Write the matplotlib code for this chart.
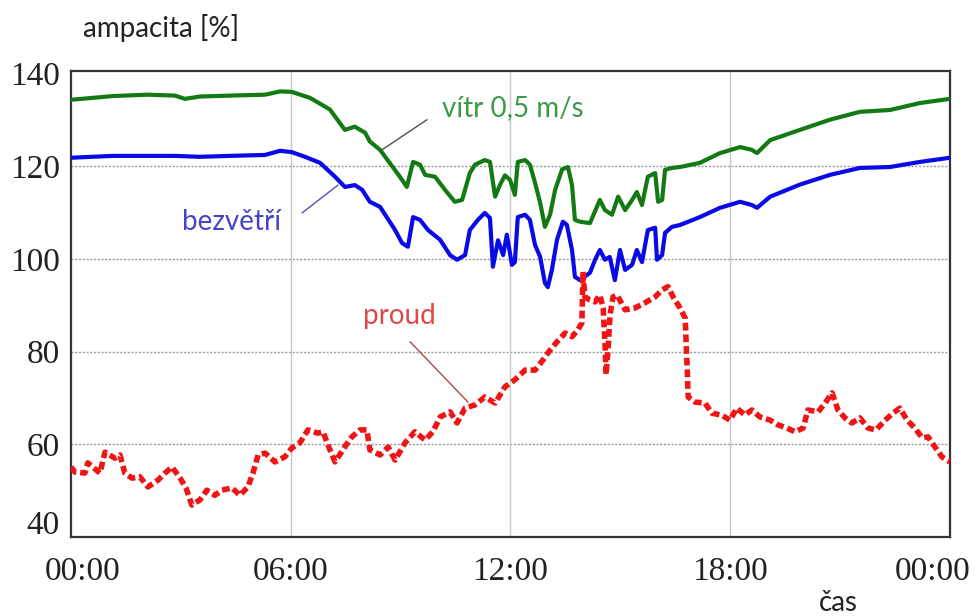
import matplotlib
matplotlib.use("Agg")
import matplotlib.pyplot as plt
import matplotlib.transforms as mtransforms

# --- data (time in hours, values in % of ampacity) ---
wind_t = [0, 1.15, 2.08, 2.84, 3.11, 3.52, 4.34, 5.30, 5.71, 6.03, 6.53, 7.07, 7.48,
          7.75, 8.03, 8.16, 8.44, 8.98, 9.17, 9.34, 9.53, 9.67, 9.94, 10.21, 10.48,
          10.68, 10.89, 11.03, 11.30, 11.44, 11.58, 11.71, 11.85, 11.99, 12.12, 12.20,
          12.40, 12.53, 12.67, 12.81, 12.94, 13.08, 13.22, 13.41, 13.57, 13.68, 13.76,
          13.90, 14.17, 14.44, 14.58, 14.77, 14.94, 15.13, 15.32, 15.45, 15.59, 15.75,
          15.95, 16.03, 16.14, 16.22, 16.41, 16.63, 17.17, 17.72, 18.27, 18.59, 18.73,
          19.09, 19.90, 20.72, 21.54, 22.36, 23.18, 24.00]
wind_v = [134.3, 135.1, 135.4, 135.2, 134.5, 135.0, 135.2, 135.4, 136.1, 136.0, 134.7,
          132.2, 127.8, 128.5, 127.2, 125.3, 123.5, 117.7, 115.5, 120.9, 120.3, 118.1,
          117.7, 114.9, 112.3, 112.7, 118.5, 120.3, 121.3, 120.9, 113.4, 115.9, 118.0,
          117.0, 113.8, 120.9, 121.3, 120.3, 116.4, 112.1, 106.9, 109.5, 114.9, 119.3,
          119.8, 115.9, 108.4, 108.0, 107.7, 112.7, 110.5, 109.5, 113.4, 110.5, 112.7,
          114.4, 111.6, 117.7, 118.5, 112.3, 112.7, 119.2, 119.6, 119.8, 120.7, 122.8,
          124.1, 123.5, 122.8, 125.6, 127.8, 130.0, 131.7, 132.1, 133.6, 134.5]

calm_t = [0, 1.15, 2.84, 3.52, 4.34, 5.30, 5.71, 6.03, 6.39, 6.80, 7.21, 7.48, 7.75,
          7.95, 8.16, 8.44, 8.85, 9.04, 9.20, 9.34, 9.53, 9.75, 10.08, 10.35, 10.54,
          10.76, 10.89, 11.11, 11.30, 11.44, 11.52, 11.66, 11.80, 11.90, 12.04, 12.12,
          12.20, 12.40, 12.53, 12.67, 12.81, 12.94, 13.02, 13.13, 13.27, 13.43, 13.54,
          13.68, 13.76, 13.90, 14.17, 14.31, 14.44, 14.58, 14.71, 14.85, 14.99, 15.13,
          15.32, 15.45, 15.59, 15.75, 15.95, 16.00, 16.14, 16.22, 16.41, 16.63, 17.17,
          17.72, 18.27, 18.59, 18.73, 19.09, 19.90, 20.72, 21.54, 22.36, 23.18, 24.00]
calm_v = [121.8, 122.2, 122.2, 122.0, 122.2, 122.4, 123.3, 123.0, 122.0, 120.7, 117.7,
          115.5, 115.9, 114.9, 112.3, 111.2, 106.2, 103.4, 102.6, 109.0, 108.4, 106.2,
          104.1, 100.8, 99.8, 100.8, 106.2, 108.4, 109.9, 108.8, 98.3, 104.0, 100.8,
          105.2, 98.7, 99.3, 109.0, 109.5, 108.4, 103.0, 100.4, 94.8, 93.9, 97.6, 104.1,
          108.0, 107.3, 101.9, 96.1, 95.4, 97.0, 99.8, 101.9, 99.8, 100.4, 95.4, 101.9,
          97.6, 98.7, 101.9, 99.3, 106.2, 106.7, 99.8, 100.8, 105.6, 106.9, 107.3, 109.0,
          111.0, 112.3, 111.6, 111.0, 113.4, 116.0, 118.1, 119.6, 119.8, 120.9, 121.8]

current_t = [0, 0.11, 0.38, 0.46, 0.79, 0.93, 1.20, 1.34, 1.47, 1.67, 1.88, 2.10, 2.38,
             2.57, 2.76, 2.98, 3.14, 3.30, 3.52, 3.71, 3.93, 4.12, 4.40, 4.61, 4.83,
             4.97, 5.11, 5.30, 5.57, 5.84, 6.03, 6.25, 6.47, 6.74, 6.88, 7.07, 7.21,
             7.48, 7.67, 7.89, 8.08, 8.16, 8.44, 8.66, 8.85, 9.12, 9.39, 9.67, 9.88,
             10.08, 10.35, 10.54, 10.76, 11.03, 11.30, 11.58, 11.85, 12.12, 12.40, 12.67,
             12.89, 13.08, 13.27, 13.49, 13.68, 13.84, 13.95, 13.98, 14.03, 14.17, 14.31,
             14.44, 14.53, 14.58, 14.61, 14.66, 14.72, 14.80, 14.91, 15.13, 15.40, 15.67,
             15.95, 16.14, 16.30, 16.44, 16.63, 16.77, 16.80, 16.83, 16.85, 17.04, 17.31,
             17.50, 17.77, 17.99, 18.18, 18.40, 18.59, 18.81, 19.09, 19.30, 19.55, 19.77,
             19.99, 20.12, 20.40, 20.59, 20.78, 20.94, 21.13, 21.32, 21.54, 21.76, 21.98,
             22.23, 22.44, 22.63, 22.83, 23.04, 23.24, 23.40, 23.59, 23.78, 24.00]
current_v = [55.1, 54.0, 53.8, 56.0, 53.8, 58.3, 57.0, 57.7, 53.8, 52.7, 53.0, 50.8, 52.3,
             53.8, 55.1, 52.7, 50.6, 46.9, 48.0, 50.1, 49.0, 50.1, 50.6, 49.0, 50.8,
             53.8, 57.7, 58.1, 56.2, 57.3, 59.2, 60.3, 63.1, 62.4, 62.7, 58.8, 56.2,
             59.5, 61.6, 63.1, 63.1, 58.8, 57.7, 59.4, 56.6, 60.3, 62.7, 60.9, 62.7,
             65.9, 67.0, 64.6, 67.8, 68.5, 70.2, 68.9, 72.4, 73.9, 76.0, 76.0,
             78.2, 80.3, 82.1, 84.0, 83.2, 84.7, 86.2, 97.2, 91.8, 91.1, 90.7,
             92.2, 89.4, 82.0, 75.0, 80.0, 88.0, 91.8, 92.2, 89.0, 89.4, 90.5,
             91.8, 93.3, 94.0, 91.8, 89.4, 87.2, 81.0, 75.4, 70.2, 69.1, 68.9,
             66.7, 66.3, 65.2, 67.8, 66.3, 67.4, 65.9, 65.2, 64.2, 63.5, 62.7,
             63.5, 67.4, 67.0, 68.9, 71.1, 67.4, 65.7, 64.6, 65.7, 63.5, 63.1,
             65.2, 66.7, 67.8, 65.2, 63.5, 61.4, 61.6, 59.4, 57.3, 56.2]

x_ticks = [0, 6, 12, 18, 24]
x_tick_labels = ["00:00", "06:00", "12:00", "18:00", "00:00"]
y_ticks = [40, 60, 80, 100, 120, 140]

# --- figure ---
fig = plt.figure(figsize=(9.8, 6.16), dpi=100)
ax = fig.add_axes([0.0724, 0.1282, 0.897, 0.7565])

ax.set_xlim(0, 24)
ax.set_ylim(40, 140.5)

# grid
for yv in [60, 80, 100, 120]:
    ax.axhline(yv, color="#9a9a9a", lw=1.0, ls=(0, (1.5, 1.2)), zorder=1)
for xv in [6, 12, 18]:
    ax.axvline(xv, color="#c8c8c8", lw=1.0, zorder=1)

# series
ax.plot(wind_t, wind_v, color="#137a13", lw=3.0, zorder=3)
ax.plot(calm_t, calm_v, color="#0a0ae6", lw=3.0, zorder=3)
ax.plot(current_t, current_v, color="#f01414", lw=4.0, ls=(0, (1.4, 0.7)), zorder=4)

# series labels with leader lines
label_font = dict(fontsize=20, family="Lato", ha="center", va="center", zorder=5)
ax.text(12.07, 132.6, "vítr 0,5 m/s", color="#3a9a48", **label_font)
ax.text(4.37, 108.0, "bezvětří", color="#4444c8", **label_font)
ax.text(8.98, 87.7, "proud", color="#e04848", **label_font)

leader = dict(arrowstyle="-", lw=1.0, shrinkA=0, shrinkB=0)
ax.annotate("", xy=(8.49, 123.5), xytext=(9.72, 130.0),
            arrowprops=dict(color="#505050", **leader), zorder=5)
ax.annotate("", xy=(7.29, 115.9), xytext=(6.31, 109.9),
            arrowprops=dict(color="#5050b8", **leader), zorder=5)
ax.annotate("", xy=(10.84, 69.1), xytext=(9.26, 82.1),
            arrowprops=dict(color="#a84848", **leader), zorder=5)

# ticks
ax.set_xticks(x_ticks)
ax.set_xticklabels(x_tick_labels)
ax.set_yticks(y_ticks)
ax.set_yticklabels([str(v) for v in y_ticks])
ax.tick_params(axis="both", length=0, labelsize=24, labelcolor="#222222")
ax.tick_params(axis="x", pad=14)
ax.tick_params(axis="y", pad=8)
for lab in ax.get_xticklabels() + ax.get_yticklabels():
    lab.set_family("Liberation Serif")

# keep the outer tick labels inside the figure
xl = ax.get_xticklabels()
xl[0].set_transform(xl[0].get_transform() +
                    mtransforms.ScaledTranslation(12 / 100, 0, fig.dpi_scale_trans))
xl[-1].set_transform(xl[-1].get_transform() +
                     mtransforms.ScaledTranslation(-17 / 100, 0, fig.dpi_scale_trans))
yl = ax.get_yticklabels()
yl[0].set_transform(yl[0].get_transform() +
                    mtransforms.ScaledTranslation(0, 15 / 100, fig.dpi_scale_trans))

for s in ax.spines.values():
    s.set_color("#333333")
    s.set_linewidth(1.6)

fig.text(83 / 980, 1 - 28 / 616, "ampacita [%]", fontsize=20, family="Lato",
         color="#222222", ha="left", va="center")
fig.text(838 / 980, 1 - 603 / 616, "čas", fontsize=20, family="Lato",
         color="#222222", ha="center", va="center")

fig.savefig("out.png", dpi=100, facecolor="white")
